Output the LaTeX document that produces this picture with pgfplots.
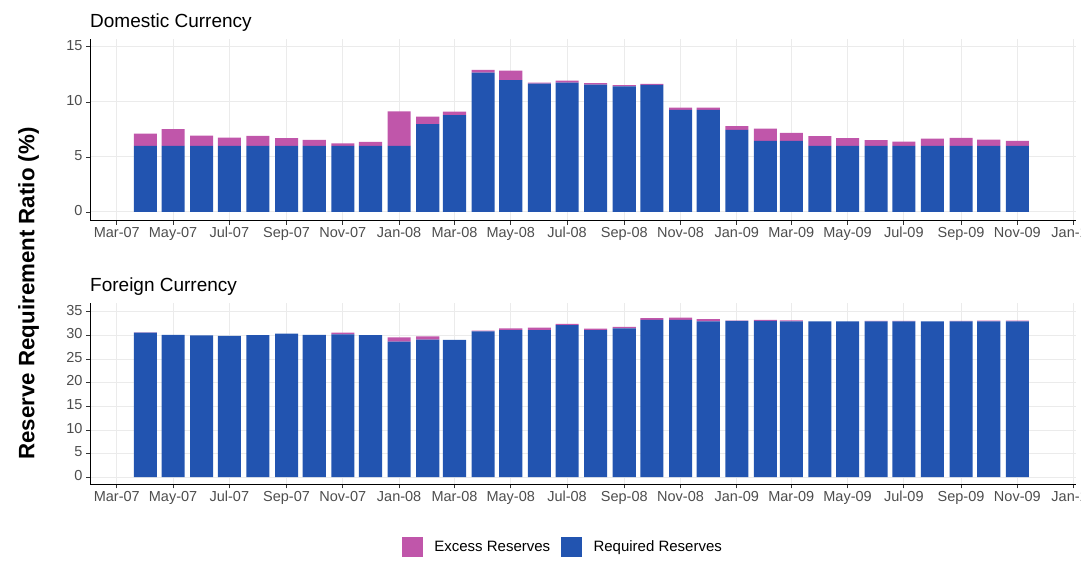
\documentclass[border=0pt]{standalone}
\usepackage{fontspec}
\setmainfont{Liberation Sans}
\usepackage{pgfplots}
\pgfplotsset{compat=1.18}
\usepackage{pgfplotstable}
\definecolor{reqblue}{RGB}{34,84,176}
\definecolor{excpink}{RGB}{192,86,170}
\definecolor{gridgray}{RGB}{235,235,235}
\definecolor{tickgray}{RGB}{77,77,77}

% x = days since 1 Mar 2007 (bars centred on the first day of each month)
\pgfplotstableread{
x req exc
31 6.00 1.12
61 6.00 1.52
92 6.00 0.94
122 6.00 0.76
153 6.00 0.91
184 6.00 0.70
214 6.00 0.55
245 6.00 0.24
275 6.00 0.36
306 6.00 3.15
337 7.97 0.70
366 8.79 0.33
397 12.67 0.24
427 11.97 0.88
458 11.67 0.09
488 11.76 0.18
519 11.58 0.12
550 11.42 0.10
580 11.55 0.09
611 9.27 0.21
641 9.27 0.21
672 7.45 0.34
703 6.45 1.13
731 6.45 0.73
762 6.00 0.88
792 6.00 0.70
823 6.00 0.52
853 6.00 0.39
884 6.00 0.67
915 6.00 0.73
945 6.00 0.58
976 6.00 0.45
}\domestic

\pgfplotstableread{
x req exc
31 30.60 0.05
61 30.14 0.00
92 30.00 0.00
122 29.93 0.00
153 30.07 0.00
184 30.36 0.00
214 30.14 0.00
245 30.20 0.37
275 30.07 0.00
306 28.70 0.87
337 29.14 0.65
366 29.07 0.00
397 30.86 0.14
427 31.14 0.36
458 31.14 0.50
488 32.20 0.23
519 31.14 0.29
550 31.50 0.29
580 33.29 0.35
611 33.29 0.50
641 33.00 0.43
672 33.07 0.07
703 33.07 0.22
731 33.00 0.21
762 33.00 0.00
792 33.00 0.00
823 33.00 0.07
853 33.00 0.07
884 33.00 0.00
915 33.00 0.07
945 33.00 0.14
976 33.00 0.14
}\foreign

\pgfplotsset{panel/.style={
  scale only axis, width=986.4pt,
  xmin=-29, xmax=1040,
  axis lines=left, axis line style={-, line width=0.9pt, black},
  tick align=outside, major tick length=4pt,
  tick style={line width=0.8pt, black!80},
  xtick={0,61,122,184,245,306,366,427,488,550,611,672,731,792,853,915,976,1037},
  xticklabels={Mar-07,May-07,Jul-07,Sep-07,Nov-07,Jan-08,Mar-08,May-08,Jul-08,Sep-08,Nov-08,Jan-09,Mar-09,May-09,Jul-09,Sep-09,Nov-09,Jan-10},
  typeset ticklabels with strut,
  grid=major, grid style={gridgray, line width=0.9pt},
  ybar stacked, bar width=25,
  ticklabel style={font=\fontsize{14.5}{16}\selectfont, text=tickgray},
  xticklabel style={yshift=1.5pt},
  /pgf/number format/assume math mode=true,
  title style={at={(0,1)}, anchor=base west, yshift=5.5pt, inner sep=0pt, font=\fontsize{19}{22}\selectfont},
  clip=false,
}}

\begin{document}
\begin{tikzpicture}
\begin{axis}[panel, at={(90pt,-220.7pt)}, anchor=south west,
  height=181.5pt, ymin=-0.8, ymax=15.7, ytick={0,5,10,15},
  title={Domestic Currency}]
\addplot[fill=reqblue, draw=none] table[x=x, y=req] {\domestic};
\addplot[fill=excpink, draw=none] table[x=x, y=exc] {\domestic};
\end{axis}
\begin{axis}[panel, at={(90pt,-484.3pt)}, anchor=south west,
  height=181pt, ymin=-1.5, ymax=36.8, ytick={0,5,...,35},
  title={Foreign Currency},
  legend style={at={(0.4795,-0.3464)}, anchor=center, draw=none, fill=none,
    legend columns=2, font=\fontsize{15}{18}\selectfont,
    /tikz/every even column/.append style={column sep=9pt}},
  legend image code/.code={\fill[#1] (0pt,-10.3pt) rectangle (20.6pt,10.3pt); \path (30.3pt,0pt);}]
\addlegendimage{fill=excpink, draw=none}
\addlegendimage{fill=reqblue, draw=none}
\addplot[fill=reqblue, draw=none] table[x=x, y=req] {\foreign};
\addplot[fill=excpink, draw=none] table[x=x, y=exc] {\foreign};
\legend{Excess Reserves, Required Reserves}
\end{axis}
\node[rotate=90, font=\bfseries\fontsize{22.3}{26}\selectfont] at (28.5pt,-293.5pt) {Reserve Requirement Ratio (\%)};
\pgfresetboundingbox
\useasboundingbox (0pt,0pt) rectangle (1081pt,-562pt);
\end{tikzpicture}
\end{document}
